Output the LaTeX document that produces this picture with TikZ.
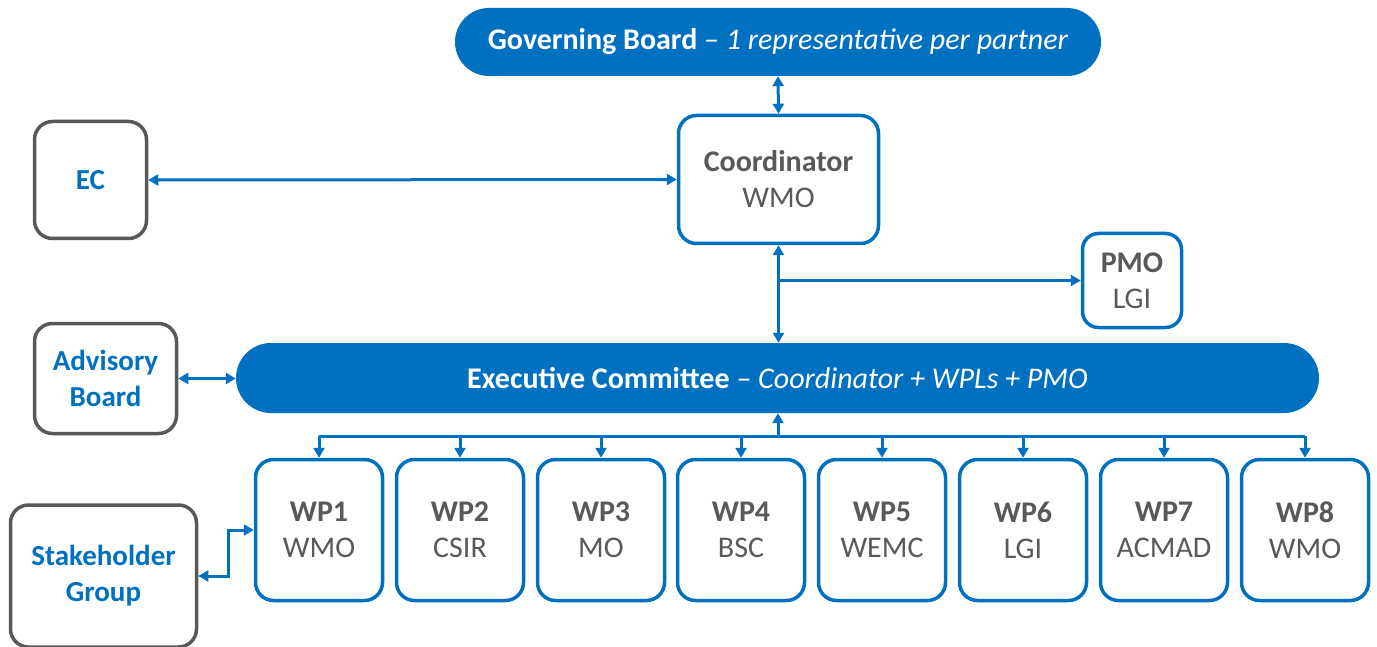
\documentclass[tikz,border=0pt]{standalone}
\usepackage{fontspec}
\setmainfont{Carlito}
\usetikzlibrary{arrows.meta}
\definecolor{cblue}{HTML}{0070C0}
\definecolor{cgray}{HTML}{595959}
\begin{document}
\begin{tikzpicture}[x=1pt,y=-1pt,
  fs/.style={font=\fontsize{30}{36}\selectfont},
  pill/.style={fs,fill=cblue,text=white,rounded corners=34pt,align=center,inner sep=0pt},
  bluebox/.style={fs,draw=cblue,line width=3.5pt,rounded corners=18pt,fill=white,text=cgray,align=center,inner sep=0pt},
  graybox/.style={draw=cgray,line width=3.5pt,rounded corners=18pt,fill=white,text=cblue,align=center,inner sep=0pt,font=\fontsize{29}{36}\selectfont\bfseries},
  conn/.style={draw=cblue,line width=3pt,arrows={-Triangle[length=10pt,width=11pt]}},
  conn2/.style={draw=cblue,line width=3pt,arrows={Triangle[length=10pt,width=11pt]-Triangle[length=10pt,width=11pt]}},
  line/.style={draw=cblue,line width=3pt}
]
\useasboundingbox (0,0) rectangle (1377,647);

\node[pill,minimum width=646pt,minimum height=68pt] (gb) at (778,42)
  {\textbf{Governing Board} \textendash{} \textit{1 representative per partner}};
\node[bluebox,minimum width=200pt,minimum height=128pt] (coord) at (778.5,179.5)
  {\textbf{Coordinator}\\WMO};
\node[graybox,minimum width=112pt,minimum height=117pt] (ec) at (90.5,180) {EC};
\node[bluebox,minimum width=99pt,minimum height=94pt,rounded corners=16pt] (pmo) at (1132,280.5)
  {\textbf{PMO}\\LGI};
\node[pill,minimum width=1083pt,minimum height=70pt,rounded corners=35pt] (exec) at (777.5,378)
  {\textbf{Executive Committee} \textendash{} \textit{Coordinator + WPLs + PMO}};
\node[graybox,minimum width=142pt,minimum height=110pt] (adv) at (105.5,378.5) {Advisory\\Board};
\node[graybox,minimum width=186pt,minimum height=142pt] (stake) at (103.5,576) {Stakeholder\\Group};

\foreach \i/\x/\a in {1/319/WMO,2/460/CSIR,3/601/MO,4/741/BSC,5/882/WEMC,6/1023/LGI,7/1164/ACMAD,8/1305/WMO}{
  \node[bluebox,minimum width=127pt,minimum height=141pt] (wp\i) at (\x,530) {\textbf{WP\i}\\\a};
}

% connectors
\draw[conn2] (coord.north) -- (gb.south);
\draw[conn2] (ec.east) -- (coord.west);
\draw[conn2] (coord.south) -- (coord.south |- exec.north);
\draw[conn] (coord.south |- pmo.west) -- (pmo.west);
\draw[conn2] (adv.east) -- (adv.east -| exec.west);

\coordinate (bus) at (778,436);
\draw[conn] (bus) -- (bus |- exec.south);
\draw[line] (wp1.north |- bus) -- (wp8.north |- bus);
\foreach \i in {1,...,8}{
  \draw[conn] (wp\i.north |- bus) -- (wp\i.north);
}
\coordinate (sk) at (228,576);
\draw[conn2] (wp1.west) -| (sk) -- (stake.east);
\end{tikzpicture}
\end{document}
